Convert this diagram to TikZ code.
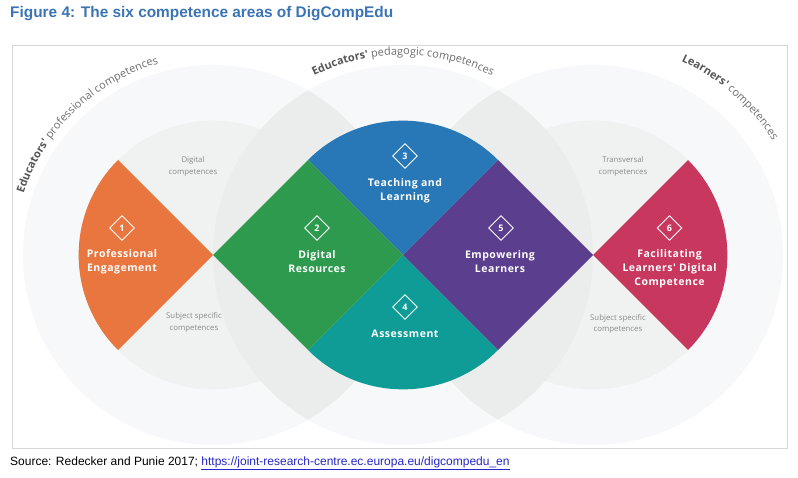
\documentclass[tikz,border=0pt]{standalone}
\usepackage{fontspec}
\setmainfont{Liberation Sans}
\newfontfamily\lblfont[LetterSpace=5]{Open Sans}
\newfontfamily\smlfont{Open Sans}
\usetikzlibrary{shapes.geometric,decorations.text}
\definecolor{cOrange}{HTML}{E8763E}
\definecolor{cGreen}{HTML}{2E9A4E}
\definecolor{cBlue}{HTML}{2878B8}
\definecolor{cTeal}{HTML}{0F9C97}
\definecolor{cPurple}{HTML}{5B3E8E}
\definecolor{cRed}{HTML}{C8375E}
\definecolor{bgOuter}{HTML}{F6F8F9}
\definecolor{bgInner}{HTML}{F0F1F1}
\definecolor{bgLens}{HTML}{EBECEC}
\definecolor{frameGray}{HTML}{D6D6D6}
\definecolor{titleBlue}{HTML}{3B74B6}
\definecolor{linkBlue}{HTML}{2626C8}
\definecolor{curveGray}{HTML}{6E6E6E}
\definecolor{curveDark}{HTML}{555555}
\definecolor{smallGray}{HTML}{8A8A8A}
\begin{document}
\begin{tikzpicture}[x=1pt,y=1pt,
  arealabel/.style={text=white, align=center, inner sep=0pt,
    font=\lblfont\bfseries\fontsize{10.5}{14}\selectfont},
  numdia/.style={diamond, draw=white, line width=0.9pt, minimum size=25pt,
    inner sep=0pt, text=white, font=\smlfont\bfseries\fontsize{9}{9}\selectfont},
  sublabel/.style={text=smallGray, align=center, inner sep=0pt,
    font=\smlfont\fontsize{7.8}{11.5}\selectfont},
  curvetext/.style={decorate, decoration={text along path, text align=center, text={#1}}}
]
\useasboundingbox (0,0) rectangle (798,477);
\fill[white] (0,0) rectangle (798,477);
\def\d{95}
\def\r{134.35}
\def\R{190}
\coordinate (A) at (213,222);
\coordinate (B) at (403,222);
\coordinate (C) at (593,222);
% background circles
\fill[bgOuter] (A) circle (\R);
\fill[bgOuter] (B) circle (\R);
\fill[bgOuter] (C) circle (\R);
\fill[bgInner] (A) circle (\r);
\fill[bgInner] (C) circle (\r);
\begin{scope}
  \clip (A) circle (\R);
  \fill[bgLens] (B) circle (\R);
\end{scope}
\begin{scope}
  \clip (C) circle (\R);
  \fill[bgLens] (B) circle (\R);
\end{scope}
% frame
\draw[frameGray, line width=0.8pt] (12,29) rectangle (787,432);
% competence areas
\fill[cOrange] (A) -- ++(135:\r) arc[start angle=135, end angle=225, radius=\r] -- cycle;
\fill[cRed] (C) -- ++(-45:\r) arc[start angle=-45, end angle=45, radius=\r] -- cycle;
\fill[cBlue] (B) -- ++(45:\r) arc[start angle=45, end angle=135, radius=\r] -- cycle;
\fill[cTeal] (B) -- ++(225:\r) arc[start angle=225, end angle=315, radius=\r] -- cycle;
\fill[cGreen] (A) -- ++(\d,\d) -- (B) -- ++(-\d,-\d) -- cycle;
\fill[cPurple] (B) -- ++(\d,\d) -- (C) -- ++(-\d,-\d) -- cycle;
% numbers
\node[numdia] (n1) at (122,249) {1};
\node[numdia] (n2) at (317,249) {2};
\node[numdia] (n3) at (405,321) {3};
\node[numdia] (n4) at (405,170) {4};
\node[numdia] (n5) at (501,249) {5};
\node[numdia] (n6) at (669.5,249) {6};
% area labels
\node[arealabel] (l1) at (122,215.5) {Professional\\Engagement};
\node[arealabel] (l2) at (317,215.5) {Digital\\Resources};
\node[arealabel] (l3) at (405,286.5) {Teaching and\\Learning};
\node[arealabel] (l4) at (405,143.5) {Assessment};
\node[arealabel] (l5) at (500,215.5) {Empowering\\Learners};
\node[arealabel] (l6) at (669.5,208.5) {Facilitating\\Learners' Digital\\Competence};
% small labels
\node[sublabel] (s1) at (193,310.5) {Digital\\competences};
\node[sublabel] (s2) at (194,154.5) {Subject specific\\competences};
\node[sublabel] (s3) at (623,310.5) {Transversal\\competences};
\node[sublabel] (s4) at (618,153) {Subject specific\\competences};
% curved texts
\path[curvetext={|\smlfont\fontsize{11}{12}\selectfont\color{curveDark}\bfseries|Educators'|\smlfont\fontsize{11}{12}\selectfont\color{curveGray}| professional competences}]
  ([shift={(174:199)}]A) arc[start angle=174, end angle=94, radius=199];
\path[curvetext={|\smlfont\fontsize{11}{12}\selectfont\color{curveDark}\bfseries|Educators'|\smlfont\fontsize{11}{12}\selectfont\color{curveGray}| pedagogic competences}]
  ([shift={(130:200)}]B) arc[start angle=130, end angle=50, radius=200];
\path[curvetext={|\smlfont\fontsize{11}{12}\selectfont\color{curveDark}\bfseries|Learners'|\smlfont\fontsize{11}{12}\selectfont\color{curveGray}| competences}]
  ([shift={(89:213)}]C) arc[start angle=89, end angle=9, radius=213];
% title and source
\node[anchor=base west, inner sep=0pt, text=titleBlue, font=\bfseries\fontsize{15.4}{18}\selectfont] (title) at (10,459) {Figure 4: The six competence areas of DigCompEdu};
\node[anchor=base west, inner sep=0pt, font=\fontsize{12}{14}\selectfont] (source) at (10,12) {Source: Redecker and Punie 2017; \textcolor{linkBlue}{\underline{https://joint-research-centre.ec.europa.eu/digcompedu\_en}}};
\end{tikzpicture}
\end{document}
